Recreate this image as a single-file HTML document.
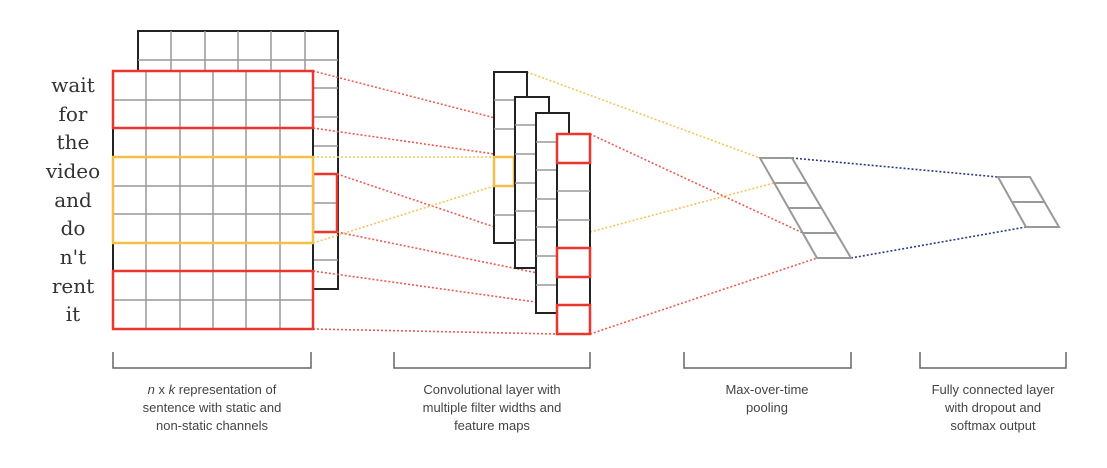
<!DOCTYPE html>
<html><head><meta charset="utf-8"><style>
html,body{margin:0;padding:0;background:#fff;}
svg{display:block;}
.w{font-family:"DejaVu Serif","Liberation Serif",serif;font-size:20px;fill:#333;text-anchor:middle;}
.l{font-family:"Liberation Sans",sans-serif;font-size:13px;fill:#444;text-anchor:middle;}
</style></head><body>
<svg width="1107" height="468" viewBox="0 0 1107 468" xmlns="http://www.w3.org/2000/svg">
<!-- back matrix -->
<g fill="none">
<rect x="138" y="31" width="200" height="258" fill="#fff" stroke="#222" stroke-width="2"/>
<g stroke="#999" stroke-width="1.5">
<line x1="171" y1="31" x2="171" y2="289"/><line x1="205" y1="31" x2="205" y2="289"/><line x1="238" y1="31" x2="238" y2="289"/><line x1="271" y1="31" x2="271" y2="289"/><line x1="305" y1="31" x2="305" y2="289"/>
<line x1="138" y1="60" x2="338" y2="60"/><line x1="138" y1="88" x2="338" y2="88"/><line x1="138" y1="117" x2="338" y2="117"/><line x1="138" y1="146" x2="338" y2="146"/><line x1="138" y1="174" x2="338" y2="174"/><line x1="138" y1="203" x2="338" y2="203"/><line x1="138" y1="232" x2="338" y2="232"/><line x1="138" y1="260" x2="338" y2="260"/>
</g>
<rect x="313" y="174" width="24" height="58" stroke="#e8372c" stroke-width="2.5"/>
</g>
<!-- connector lines -->
<g fill="none" stroke-width="1.6" stroke-dasharray="2 2">
<g stroke="#ee5a50">
<line x1="313" y1="71" x2="557" y2="134"/><line x1="313" y1="128" x2="557" y2="163"/>
<line x1="337" y1="174" x2="557" y2="248"/><line x1="337" y1="232" x2="557" y2="277"/>
<line x1="313" y1="271" x2="557" y2="305"/><line x1="313" y1="329" x2="557" y2="334"/>
<line x1="590" y1="134" x2="803" y2="233"/><line x1="590" y1="334" x2="817" y2="258"/>
</g>
<g stroke="#f7c35a">
<line x1="313" y1="157" x2="494" y2="157"/><line x1="313" y1="243" x2="494" y2="186"/>
<line x1="527" y1="72" x2="760" y2="158"/><line x1="590" y1="232" x2="774" y2="183"/>
</g>
<g stroke="#2b3a80">
<line x1="792" y1="158" x2="998" y2="177"/><line x1="851" y1="258" x2="1026" y2="227"/>
</g>
</g>
<!-- front matrix -->
<g fill="none">
<rect x="113" y="71" width="200" height="258" fill="#fff" stroke="#222" stroke-width="2"/>
<g stroke="#999" stroke-width="1.5">
<line x1="146" y1="71" x2="146" y2="329"/><line x1="180" y1="71" x2="180" y2="329"/><line x1="213" y1="71" x2="213" y2="329"/><line x1="246" y1="71" x2="246" y2="329"/><line x1="280" y1="71" x2="280" y2="329"/>
<line x1="113" y1="100" x2="313" y2="100"/><line x1="113" y1="128" x2="313" y2="128"/><line x1="113" y1="157" x2="313" y2="157"/><line x1="113" y1="186" x2="313" y2="186"/><line x1="113" y1="214" x2="313" y2="214"/><line x1="113" y1="243" x2="313" y2="243"/><line x1="113" y1="271" x2="313" y2="271"/><line x1="113" y1="300" x2="313" y2="300"/>
</g>
<rect x="113" y="71" width="200" height="57" stroke="#e8372c" stroke-width="2.5"/>
<rect x="113" y="157" width="200" height="86" stroke="#f5c04a" stroke-width="2.5"/>
<rect x="113" y="271" width="200" height="58" stroke="#e8372c" stroke-width="2.5"/>
</g>
<!-- feature maps -->
<g fill="#fff">
<rect x="494" y="72" width="33" height="171" stroke="#222" stroke-width="2"/>
<g stroke="#999" stroke-width="1.5"><line x1="494" y1="100" x2="527" y2="100"/><line x1="494" y1="129" x2="527" y2="129"/><line x1="494" y1="215" x2="527" y2="215"/></g>
<rect x="494" y="157" width="20" height="29" fill="none" stroke="#f5c04a" stroke-width="2.5"/>
<rect x="515" y="97" width="34" height="171" stroke="#222" stroke-width="2"/>
<g stroke="#999" stroke-width="1.5"><line x1="515" y1="125" x2="549" y2="125"/><line x1="515" y1="154" x2="549" y2="154"/><line x1="515" y1="183" x2="549" y2="183"/><line x1="515" y1="211" x2="549" y2="211"/><line x1="515" y1="240" x2="549" y2="240"/></g>
<rect x="536" y="113" width="33" height="200" stroke="#222" stroke-width="2"/>
<g stroke="#999" stroke-width="1.5"><line x1="536" y1="142" x2="569" y2="142"/><line x1="536" y1="170" x2="569" y2="170"/><line x1="536" y1="199" x2="569" y2="199"/><line x1="536" y1="227" x2="569" y2="227"/><line x1="536" y1="256" x2="569" y2="256"/><line x1="536" y1="285" x2="569" y2="285"/></g>
<rect x="557" y="134" width="33" height="200" stroke="#222" stroke-width="2"/>
<g stroke="#999" stroke-width="1.5"><line x1="557" y1="191" x2="590" y2="191"/><line x1="557" y1="220" x2="590" y2="220"/></g>
<g fill="none" stroke="#e8372c" stroke-width="2.5">
<rect x="557" y="134" width="33" height="29"/><rect x="557" y="248" width="33" height="29"/><rect x="557" y="305" width="33" height="29"/>
</g>
</g>
<!-- pooling -->
<g fill="none" stroke="#999" stroke-width="2">
<polygon points="760,158 792,158 851,258 817,258"/>
<line x1="775" y1="183" x2="807" y2="183"/><line x1="789" y1="208" x2="821" y2="208"/><line x1="803" y1="233" x2="836" y2="233"/>
<polygon points="998,177 1030,177 1059,227 1026,227"/>
<line x1="1012" y1="202" x2="1044" y2="202"/>
</g>
<!-- words -->
<g class="w">
<text x="73" y="92">wait</text><text x="73" y="121">for</text><text x="73" y="149">the</text><text x="73" y="178">video</text><text x="73" y="207">and</text><text x="73" y="235">do</text><text x="73" y="264">n't</text><text x="73" y="293">rent</text><text x="73" y="321">it</text>
</g>
<!-- brackets -->
<g fill="none" stroke="#666" stroke-width="1.5">
<polyline points="113,352 113,368 311,368 311,352"/>
<polyline points="394,352 394,368 590,368 590,352"/>
<polyline points="684,352 684,368 851,368 851,352"/>
<polyline points="920,352 920,368 1066,368 1066,352"/>
</g>
<g class="l">
<text x="212" y="394"><tspan font-style="italic">n</tspan> x <tspan font-style="italic">k</tspan> representation of</text>
<text x="212" y="412">sentence with static and</text>
<text x="212" y="430">non-static channels</text>
<text x="492" y="394">Convolutional layer with</text>
<text x="492" y="412">multiple filter widths and</text>
<text x="492" y="430">feature maps</text>
<text x="767" y="394">Max-over-time</text>
<text x="767" y="412">pooling</text>
<text x="993" y="394">Fully connected layer</text>
<text x="993" y="412">with dropout and</text>
<text x="993" y="430">softmax output</text>
</g>
</svg>
</body></html>
